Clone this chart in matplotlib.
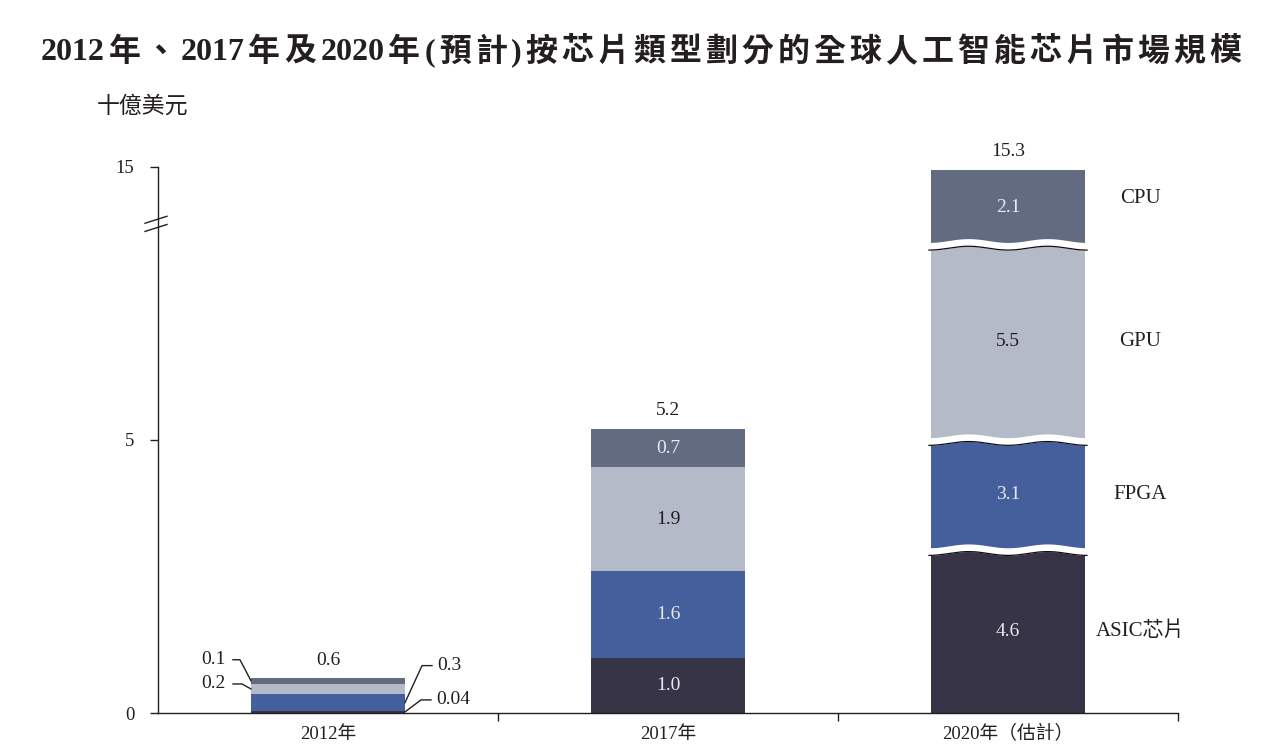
import numpy as np
import matplotlib
matplotlib.use("Agg")
import matplotlib.pyplot as plt

plt.rcParams['font.family'] = ['Liberation Serif', 'Noto Sans CJK TC', 'DejaVu Sans']

# data (US$ billion)
years = ['2012年', '2017年', '2020年（估計）']
chip_types = ['ASIC芯片', 'FPGA', 'GPU', 'CPU']
asic = [0.04, 1.0, 4.6]
fpga = [0.3, 1.6, 3.1]
gpu = [0.2, 1.9, 5.5]
cpu = [0.1, 0.7, 2.1]
totals = [0.6, 5.2, 15.3]
ytick_vals = [0, 5, 15]
title = '2012年、2017年及2020年(預計)按芯片類型劃分的全球人工智能芯片市場規模'

series = [asic, fpga, gpu, cpu]
colors = ['#363446', '#445F9C', '#B4BAC7', '#626B80']
txt_colors = ['#E8EAF0', '#E8EAF0', '#1E1E1E', '#E8EAF0']

# the 2020 column is drawn on a broken (compressed) scale
squash = [1.0, 1.0, 0.65]
ytick_pos = [0, 5, 10]

fig = plt.figure(figsize=(12.63, 7.56), dpi=100)
ax = fig.add_axes([158/1263, 1-713/756, 1020/1263, (713-134)/756])

x = np.arange(len(years))
w = 0.453
bottom = np.zeros(len(years))
edges = []
for s, col in zip(series, colors):
    h = np.array(s) * np.array(squash)
    ax.bar(x, h, w, bottom=bottom, color=col, zorder=2)
    edges.append((bottom.copy(), bottom + h))
    bottom = bottom + h

# value labels inside bars (2017, 2020)
for k, s in enumerate(series):
    lo, hi = edges[k]
    for i in (1, 2):
        ax.text(x[i], (lo[i]+hi[i])/2, f'{s[i]:.1f}', ha='center', va='center',
                fontsize=14, color=txt_colors[k], zorder=5)

# totals above bars
for i in x:
    ax.text(x[i], bottom[i] + 0.33, f'{totals[i]:.1f}', ha='center', va='center',
            fontsize=14, color='#231F20')

# chip type names next to 2020 column
for k, name in enumerate(chip_types):
    lo, hi = edges[k]
    yc = (lo[2]+hi[2])/2
    if k == 3:
        yc += 0.15
    ax.text(2.39, yc, name, ha='center', va='center', fontsize=15, color='#231F20')

# wavy break bands on the 2020 column
t = np.linspace(0, 1, 200)
xs = x[2] - w/2 - 0.006 + t*(w + 0.012)
wave = -0.035*np.cos(4*np.pi*t)
for k in range(3):
    b = edges[k][1][2]
    ax.fill_between(xs, b - 0.07 + wave, b + 0.07 + wave, color='white', zorder=3, lw=0)
    ax.plot(xs, b - 0.07 + wave, color='#111111', lw=0.9, zorder=4)

# 2012 leader lines
px, py = 1/340, 1/54.6
lo0 = [e[0][0] for e in edges]
hi0 = [e[1][0] for e in edges]
left = x[0] - w/2
right = x[0] + w/2
leaders = [
    (3, left, -11, 21, -7, f'{cpu[0]:.1f}'),
    (2, left, -9, 5, -9, f'{gpu[0]:.1f}'),
    (1, right, 17, 37, 10, f'{fpga[0]:.1f}'),
    (0, right, 16, 12, 10, f'{asic[0]:.2f}'),
]
for k, xe, dx, dy, dh, lab in leaders:
    yc = (lo0[k] + hi0[k]) / 2
    if k == 0:
        yc = 0.02
    xk, yk = xe + dx*px, yc + dy*py
    xend = xk + dh*px
    ax.plot([xe, xk, xend], [yc, yk, yk], color='#231F20', lw=1.0, zorder=5)
    if dh < 0:
        ax.text(xend - 7*px, yk, lab, ha='right', va='center', fontsize=14, color='#231F20')
    else:
        ax.text(xend + 5*px, yk, lab, ha='left', va='center', fontsize=14, color='#231F20')

# axes
ax.set_xlim(-0.5, 2.5)
ax.set_ylim(0, 10.6)
for sp in ('top', 'right'):
    ax.spines[sp].set_visible(False)
ax.spines['left'].set_bounds(0, 10)
for sp in ('left', 'bottom'):
    ax.spines[sp].set_color('#231F20')
    ax.spines[sp].set_linewidth(1.0)
ax.set_yticks(ytick_pos)
ax.set_yticklabels([str(v) for v in ytick_vals])
ax.tick_params(axis='y', direction='out', length=6, width=1, labelsize=13.5,
               colors='#231F20', pad=11)
ax.set_xticks(x)
ax.set_xticklabels(years)
ax.tick_params(axis='x', which='major', length=0, labelsize=13.5, pad=9,
               colors='#231F20')
ax.set_xticks([0.5, 1.5, 2.5], minor=True)
ax.tick_params(axis='x', which='minor', direction='out', length=6, width=1,
               color='#231F20')

# axis break marks on the y axis
for yb in (9.03, 8.88):
    ax.plot([-0.5 - 13*px, -0.5 + 9*px], [yb - 3.5*py, yb + 3.5*py],
            color='#231F20', lw=1.0, clip_on=False, zorder=6)

# title with letter spacing: split into digit groups and single characters
tokens = []
for ch in title:
    if ch.isdigit() and tokens and tokens[-1].isdigit():
        tokens[-1] += ch
    else:
        tokens.append(ch)
renderer = fig.canvas.get_renderer()
W = fig.get_figwidth() * fig.dpi
track = 4
pieces = []
widths = []
for tk in tokens:
    tt = fig.text(0, 1-53/756, tk, ha='left', va='center', fontsize=23,
                  fontweight='bold', color='#231F20')
    pieces.append(tt)
    widths.append(tt.get_window_extent(renderer).width)
total = sum(widths) + track*(len(tokens)-1)
xpos = 641 - total/2
for tt, wd in zip(pieces, widths):
    tt.set_x(xpos / W)
    xpos += wd + track

fig.text(97/1263, 1-107/756, '十億美元', ha='left', va='center', fontsize=16.5, color='#231F20')

fig.savefig('out.png', dpi=100)
